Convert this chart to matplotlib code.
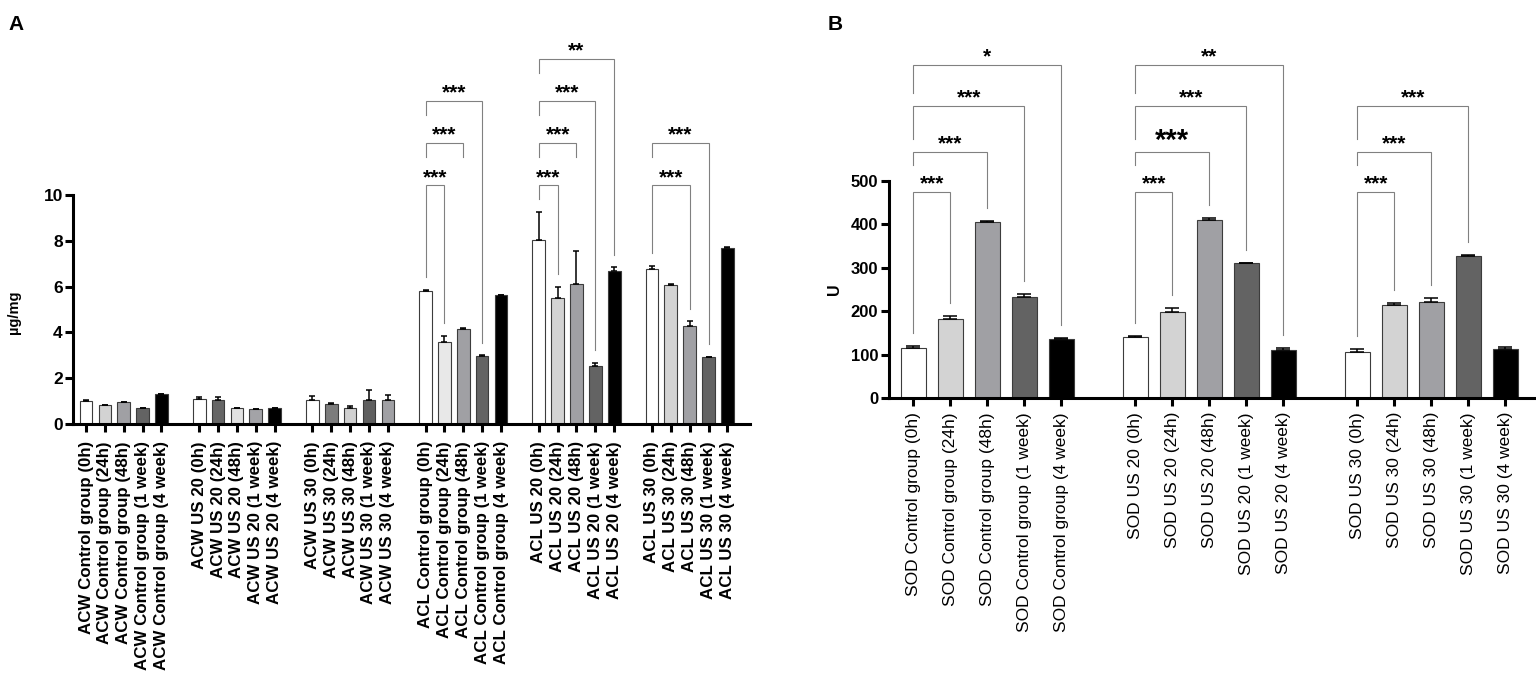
import matplotlib
matplotlib.use("Agg")
import matplotlib.pyplot as plt
import numpy as np

plt.rcParams['font.family'] = ['Liberation Sans', 'DejaVu Sans']

# ---------------- Panel A data ----------------
A_labels = [
    "ACW Control group (0h)", "ACW Control group (24h)", "ACW Control group (48h)",
    "ACW Control group (1 week)", "ACW Control group (4 week)",
    "ACW US 20 (0h)", "ACW US 20 (24h)", "ACW US 20 (48h)", "ACW US 20 (1 week)", "ACW US 20 (4 week)",
    "ACW US 30 (0h)", "ACW US 30 (24h)", "ACW US 30 (48h)", "ACW US 30 (1 week)", "ACW US 30 (4 week)",
    "ACL Control group (0h)", "ACL Control group (24h)", "ACL Control group (48h)",
    "ACL Control group (1 week)", "ACL Control group (4 week)",
    "ACL US 20 (0h)", "ACL US 20 (24h)", "ACL US 20 (48h)", "ACL US 20 (1 week)", "ACL US 20 (4 week)",
    "ACL US 30 (0h)", "ACL US 30 (24h)", "ACL US 30 (48h)", "ACL US 30 (1 week)", "ACL US 30 (4 week)",
]
A_values = [
    [1.00, 0.81, 0.95, 0.68, 1.31],
    [1.10, 1.05, 0.69, 0.65, 0.68],
    [1.06, 0.87, 0.70, 1.05, 1.05],
    [5.80, 3.60, 4.17, 2.95, 5.63],
    [8.04, 5.51, 6.13, 2.53, 6.67],
    [6.79, 6.09, 4.26, 2.91, 7.69],
]
A_errors = [
    [0.03, 0.02, 0.02, 0.03, 0.02],
    [0.08, 0.13, 0.01, 0.01, 0.01],
    [0.16, 0.06, 0.07, 0.42, 0.23],
    [0.07, 0.26, 0.03, 0.05, 0.02],
    [1.22, 0.49, 1.44, 0.13, 0.17],
    [0.12, 0.03, 0.23, 0.02, 0.06],
]
A_colors = [
    ["#ffffff", "#d3d3d3", "#a0a0a4", "#636363", "#000000"],
    ["#ffffff", "#666666", "#e2e2e2", "#a3a3a7", "#000000"],
    ["#ffffff", "#7c7c7c", "#d0d0d0", "#5f5f5f", "#a0a0a4"],
    ["#ffffff", "#e8e8e8", "#a0a0a4", "#636363", "#000000"],
    ["#ffffff", "#d3d3d3", "#a0a0a4", "#636363", "#000000"],
    ["#ffffff", "#d3d3d3", "#a0a0a4", "#636363", "#000000"],
]
A_levels = [10.42, 12.28, 14.11, 15.94]
# (group, compared bar index, level index, stars, right leg reaches bar)
A_brackets = [
    (3, 1, 0, "***", True), (3, 2, 1, "***", False), (3, 3, 2, "***", True),
    (4, 1, 0, "***", True), (4, 2, 1, "***", False), (4, 3, 2, "***", True), (4, 4, 3, "**", True),
    (5, 2, 0, "***", True), (5, 3, 1, "***", True),
]

# ---------------- Panel B data ----------------
B_labels = [
    "SOD Control group (0h)", "SOD Control group (24h)", "SOD Control group (48h)",
    "SOD Control group (1 week)", "SOD Control group (4 week)",
    "SOD US 20 (0h)", "SOD US 20 (24h)", "SOD US 20 (48h)", "SOD US 20 (1 week)", "SOD US 20 (4 week)",
    "SOD US 30 (0h)", "SOD US 30 (24h)", "SOD US 30 (48h)", "SOD US 30 (1 week)", "SOD US 30 (4 week)",
]
B_values = [
    [114, 182, 404, 233, 135],
    [140, 199, 410, 310, 110],
    [105, 213, 220, 326, 112],
]
B_errors = [
    [6, 6, 4, 6, 3],
    [3, 7, 5, 1.5, 4],
    [7, 6, 9, 3, 5],
]
B_colors = ["#ffffff", "#d3d3d3", "#a0a0a4", "#636363", "#000000"]
B_levels = [474, 567, 673, 766]
B_short_leg = [0, 31, 77, 64]
# (group, compared bar index, level index, stars, star size)
B_brackets = [
    (0, 1, 0, "***", 15), (0, 2, 1, "***", 15), (0, 3, 2, "***", 15), (0, 4, 3, "*", 15),
    (1, 1, 0, "***", 15), (1, 2, 1, "***", 21), (1, 3, 2, "***", 15), (1, 4, 3, "**", 15),
    (2, 1, 0, "***", 15), (2, 2, 1, "***", 15), (2, 3, 2, "***", 15),
]

W, H = 1536, 677
fig = plt.figure(figsize=(W / 100, H / 100), dpi=100)

BR_COLOR = "#808080"


def style_axes(ax):
    for s in ("top", "right"):
        ax.spines[s].set_visible(False)
    for s in ("left", "bottom"):
        ax.spines[s].set_linewidth(2.2)
        ax.spines[s].set_color("black")
    ax.tick_params(axis="both", direction="out", length=5.8, width=2.2, color="black")


def draw_bars(ax, values, errors, colors_per_group, capsize):
    tops = {}
    for g, (vals, errs) in enumerate(zip(values, errors)):
        x = np.arange(5) + 6 * g
        cols = colors_per_group[g]
        ax.bar(x, vals, width=0.67, color=cols, edgecolor="#3c3c3c", linewidth=0.8,
               yerr=[np.zeros(5), errs], capsize=capsize,
               error_kw=dict(elinewidth=1.1, capthick=1.1, ecolor="black"), zorder=2)
        for i in range(5):
            tops[(g, i)] = vals[i] + errs[i]
    return tops


def bracket(ax, x1, x2, level, y_left, y_right, stars, fs, star_off):
    ax.plot([x1, x1, x2, x2], [y_left, level, level, y_right], color=BR_COLOR,
            lw=0.8, clip_on=False, solid_joinstyle="miter", zorder=3)
    ax.annotate(stars, xy=((x1 + x2) / 2, level), xytext=(0, star_off),
                textcoords="offset points", ha="center", va="baseline",
                fontsize=fs, fontweight="bold", annotation_clip=False)


# ---------------- Panel A ----------------
axA = fig.add_axes([73 / W, 1 - 424 / H, 677 / W, 229 / H])
style_axes(axA)
topsA = draw_bars(axA, A_values, A_errors, A_colors, capsize=1.9)
posA = [6 * g + i for g in range(6) for i in range(5)]
axA.set_xlim(-0.69, 35.2)
axA.set_ylim(0, 10)
axA.set_yticks([0, 2, 4, 6, 8, 10])
axA.set_yticklabels(["0", "2", "4", "6", "8", "10"], fontsize=12.5, fontweight="bold")
axA.set_xticks(posA)
axA.set_xticklabels(A_labels, rotation=90, fontsize=12.2, fontweight="bold")
axA.tick_params(axis="x", pad=6.5)
axA.tick_params(axis="y", pad=1.5)
axA.set_ylabel("µg/mg", fontsize=10.5, fontweight="bold")
axA.yaxis.set_label_coords(-0.077, 0.49)

gapA = 0.55
shortA = 0.6
for g, j, li, stars, right_full in A_brackets:
    level = A_levels[li]
    lowest = min(b[2] for b in A_brackets if b[0] == g)
    yl = topsA[(g, 0)] + gapA if li == lowest else level - shortA
    yr = topsA[(g, j)] + gapA if right_full else level - shortA
    bracket(axA, 6 * g, 6 * g + j, level, yl, yr, stars, 15, 1.6)

# ---------------- Panel B ----------------
axB = fig.add_axes([889 / W, 1 - 398 / H, 645 / W, 217.3 / H])
style_axes(axB)
B_colors_groups = [B_colors] * 3
topsB = draw_bars(axB, B_values, B_errors, B_colors_groups, capsize=4.7)
posB = [6 * g + i for g in range(3) for i in range(5)]
axB.set_xlim(-0.66, 16.78)
axB.set_ylim(0, 500)
axB.set_yticks([0, 100, 200, 300, 400, 500])
axB.set_yticklabels(["0", "100", "200", "300", "400", "500"], fontsize=12, fontweight="bold")
axB.set_xticks(posB)
axB.set_xticklabels(B_labels, rotation=90, fontsize=12.5)
axB.tick_params(axis="x", pad=4.3)
axB.tick_params(axis="y", pad=2)
axB.set_ylabel("U", fontsize=11.5, fontweight="bold")
axB.yaxis.set_label_coords((842 - 889) / 645, 0.5)

gapB = 30
for g, j, li, stars, fs in B_brackets:
    level = B_levels[li]
    yl = topsB[(g, 0)] + gapB if li == 0 else level - B_short_leg[li]
    yr = topsB[(g, j)] + gapB
    bracket(axB, 6 * g, 6 * g + j, level, yl, yr, stars, fs, 1.6)

fig.text(8 / W, 1 - 30 / H, "A", fontsize=15, fontweight="bold", ha="left", va="baseline")
fig.text(828 / W, 1 - 30 / H, "B", fontsize=15, fontweight="bold", ha="left", va="baseline")

fig.savefig("out.png", dpi=100)
